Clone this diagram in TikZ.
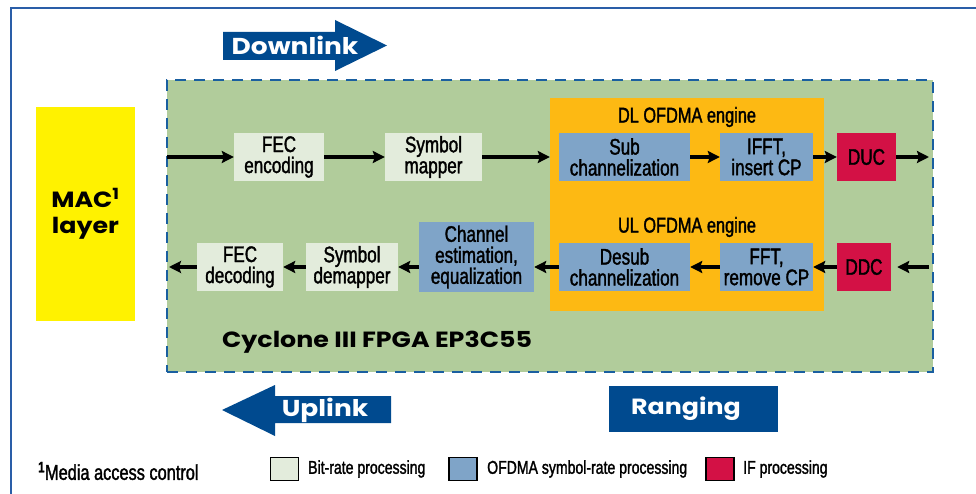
\documentclass[tikz,border=0pt]{standalone}
\usepackage{fontspec}
\setmainfont{Liberation Sans}[FakeStretch=0.76,FakeBold=1.5]
\newfontfamily\geo{Poppins}[FakeStretch=1.15]
\usetikzlibrary{arrows.meta}

\definecolor{frameblue}{HTML}{2A5EA8}
\definecolor{linkblue}{HTML}{004A8F}
\definecolor{dashblue}{HTML}{1A5FA0}
\definecolor{fpgagreen}{HTML}{B1CC9B}
\definecolor{bitgreen}{HTML}{E3ECDC}
\definecolor{symblue}{HTML}{7FA4C8}
\definecolor{engorange}{HTML}{FDB913}
\definecolor{ifred}{HTML}{D31145}
\definecolor{macyellow}{HTML}{FFF200}

\begin{document}
\begin{tikzpicture}[x=1pt,y=-1pt,
    box/.style={inner sep=0pt, align=center, minimum height=48pt,
                font=\fontsize{22.5}{21}\selectfont},
    bitbox/.style={box, fill=bitgreen},
    symbox/.style={box, fill=symblue},
    ifbox/.style={box, fill=ifred},
    flow/.style={line width=3.6pt, -{Stealth[length=12pt,width=12pt,inset=2pt]}},
    biglabel/.style={text=white, font=\geo\bfseries\fontsize{23}{23}\selectfont},
    keybox/.style={draw=black, line width=1.8pt, minimum width=28pt, minimum height=23pt, inner sep=0pt},
    keytext/.style={anchor=west, inner sep=0pt, font=\fontsize{18.5}{18}\selectfont}]
    \clip (0,0) rectangle (976,494);
    \fill[white] (0,0) rectangle (976,494);
    \draw[frameblue, line width=2pt] (11,8) rectangle (1000,520);

    % direction arrows
    \fill[linkblue] (223,32) -- (335,32) -- (335,20) -- (387,45.5) -- (335,71) -- (335,60) -- (223,60) -- cycle;
    \node[biglabel] (down) at (295,45) {Downlink};
    \fill[linkblue] (222,410) -- (275,385) -- (275,396) -- (391,396) -- (391,423) -- (275,423) -- (275,436) -- cycle;
    \node[biglabel] (up) at (325,410) {Uplink};
    \fill[linkblue] (609,386) rectangle (778,432);
    \node[biglabel, font=\geo\bfseries\fontsize{22}{22}\selectfont] (ranging) at (686,409) {Ranging};

    % MAC and FPGA
    \node[fill=macyellow, minimum width=99pt, minimum height=214pt, align=center,
          font=\geo\bfseries\fontsize{22}{26}\selectfont] (mac) at (85.5,214) {MAC\textsuperscript{1}\\layer};
    \node[fill=fpgagreen, draw=dashblue, line width=2pt, dash pattern=on 11pt off 8pt,
          minimum width=766pt, minimum height=292pt] (fpga) at (550,226) {};
    \node[anchor=west, inner sep=0pt, font=\geo\bfseries\fontsize{22}{22}\selectfont] (chip) at (222,342) {Cyclone III FPGA EP3C55};
    \node[fill=engorange, minimum width=274pt, minimum height=213pt] (engine) at (687,204.5) {};
    \node[box, minimum height=0pt, font=\fontsize{21.5}{21}\selectfont] (dleng) at (687,117) {DL OFDMA engine};
    \node[box, minimum height=0pt, font=\fontsize{21.5}{21}\selectfont] (uleng) at (687,227) {UL OFDMA engine};

    % downlink chain
    \node[bitbox, minimum width=90pt] (fecenc) at (279,157) {FEC\\encoding};
    \node[bitbox, minimum width=97pt] (mapper) at (433.5,157) {Symbol\\mapper};
    \node[symbox, minimum width=131pt] (sub) at (624.5,157) {Sub\\channelization};
    \node[symbox, minimum width=93pt] (ifft) at (766.5,157) {IFFT,\\insert CP};
    \node[ifbox, minimum width=59pt] (duc) at (866.5,157) {DUC};
    \coordinate (dlin) at (167,157);
    \coordinate (dlout) at (929,157);

    % uplink chain
    \node[bitbox, minimum width=86pt] (fecdec) at (240,267) {FEC\\decoding};
    \node[bitbox, minimum width=92pt] (demap) at (352,267) {Symbol\\demapper};
    \node[symbox, minimum width=115pt, minimum height=70pt] (chan) at (476.5,257) {Channel\\estimation,\\equalization};
    \node[symbox, minimum width=131pt] (desub) at (624.5,267) {Desub\\channelization};
    \node[symbox, minimum width=93pt] (fft) at (766.5,267) {FFT,\\remove CP};
    \node[ifbox, minimum width=54pt] (ddc) at (864,267) {DDC};
    \coordinate (ulin) at (929,267);
    \coordinate (ulout) at (169,267);

    \draw[flow] (dlin) -- (fecenc);
    \draw[flow] (fecenc) -- (mapper);
    \draw[flow] (mapper) -- (mapper -| engine.west);
    \draw[flow] (sub) -- (ifft);
    \draw[flow] (ifft) -- (duc);
    \draw[flow] (duc) -- (dlout);

    \draw[flow] (ulin) -- ([xshift=6pt]ddc.east);
    \draw[flow] (ddc) -- (fft);
    \draw[flow] (fft) -- (desub);
    \draw[flow] (desub) -- (desub -| chan.east);
    \draw[flow] (demap -| chan.west) -- (demap);
    \draw[flow] (demap) -- (fecdec);
    \draw[flow] (fecdec) -- (ulout);

    % footnote and key
    \node[anchor=west, inner sep=0pt, font=\fontsize{21.5}{21}\selectfont] (note) at (38,471) {\textsuperscript{\bfseries 1}Media access control};
    \node[keybox, fill=bitgreen] (kbit) at (284.5,469) {};
    \node[keytext] (tbit) at (308,469) {Bit-rate processing};
    \node[keybox, fill=symblue] (ksym) at (463,469) {};
    \node[keytext] (tsym) at (487,469) {OFDMA symbol-rate processing};
    \node[keybox, fill=ifred] (kif) at (720,469) {};
    \node[keytext] (tif) at (743,469) {IF processing};
\end{tikzpicture}
\end{document}
